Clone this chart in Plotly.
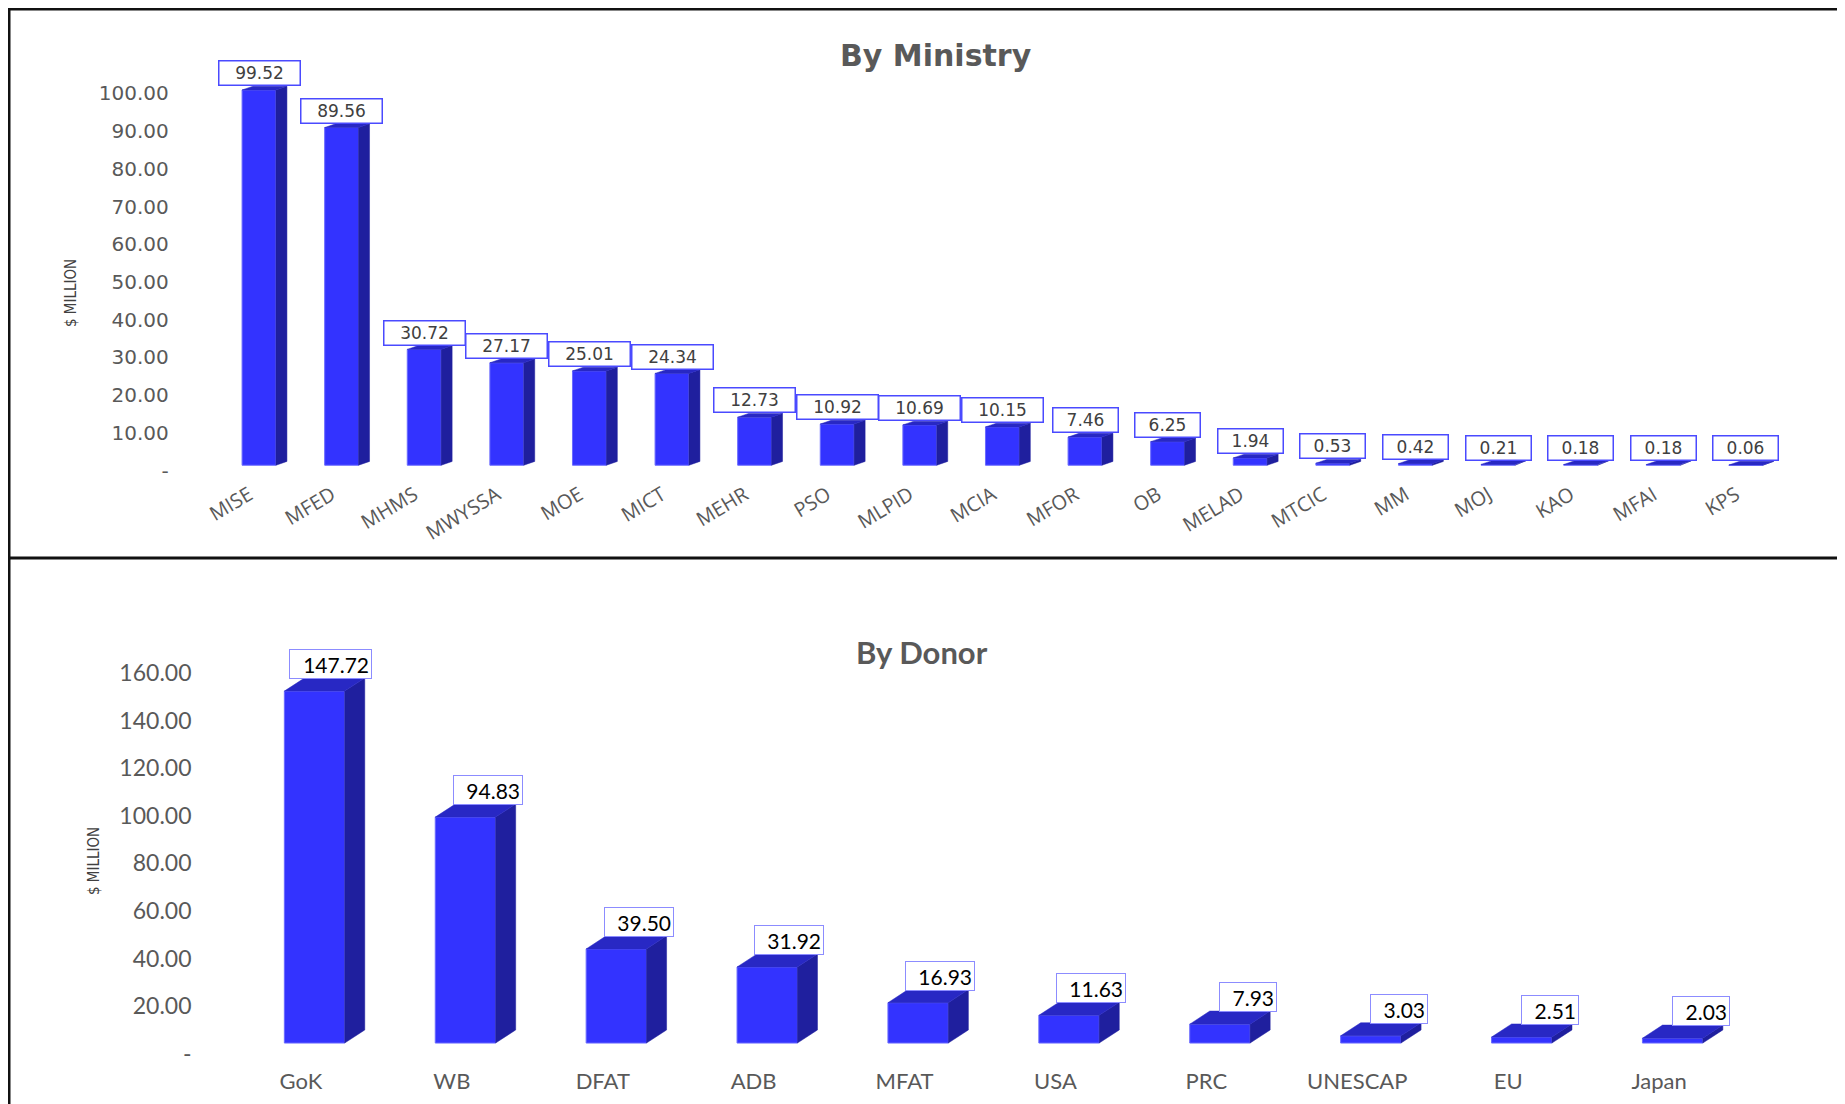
import plotly.graph_objects as go

W, H = 1845, 1104

# ---------------- data ----------------
ministries = ["MISE", "MFED", "MHMS", "MWYSSA", "MOE", "MICT", "MEHR", "PSO", "MLPID",
              "MCIA", "MFOR", "OB", "MELAD", "MTCIC", "MM", "MOJ", "KAO", "MFAI", "KPS"]
ministry_values = [99.52, 89.56, 30.72, 27.17, 25.01, 24.34, 12.73, 10.92, 10.69,
                   10.15, 7.46, 6.25, 1.94, 0.53, 0.42, 0.21, 0.18, 0.18, 0.06]
ministry_ytick_vals = [0, 10, 20, 30, 40, 50, 60, 70, 80, 90, 100]
ministry_ytick_text = ["-", "10.00", "20.00", "30.00", "40.00", "50.00", "60.00",
                       "70.00", "80.00", "90.00", "100.00"]

donors = ["GoK", "WB", "DFAT", "ADB", "MFAT", "USA", "PRC", "UNESCAP", "EU", "Japan"]
donor_values = [147.72, 94.83, 39.50, 31.92, 16.93, 11.63, 7.93, 3.03, 2.51, 2.03]
donor_ytick_vals = [0, 20, 40, 60, 80, 100, 120, 140, 160]
donor_ytick_text = ["-", "20.00", "40.00", "60.00", "80.00", "100.00", "120.00",
                    "140.00", "160.00"]

# ---------------- styles ----------------
FRONT = "#3333FF"
SIDE = "#1F1F9E"
TOP = "#2828C4"
EDGE = "#6A6AFF"
GREY = "#595959"

PAGE_OFF = 8  # default page body margin


def px_x(p):
    return (p - PAGE_OFF) / W


def px_y(p):
    return 1 - (p - PAGE_OFF) / H


def faces(n, vals, off, w, dx, dy, base):
    sx, sy, tx, ty = [], [], [], []
    for i in range(n):
        v = vals[i]
        xl = i + off - w / 2
        xr = i + off + w / 2
        b = base
        t = base + v
        sx += [xr, xr + dx, xr + dx, xr, xr, None]
        sy += [b, b + dy, t + dy, t, b, None]
        tx += [xl, xl + dx, xr + dx, xr, xl, None]
        ty += [t, t + dy, t + dy, t, t, None]
    return sx, sy, tx, ty


fig = go.Figure()

# ---------- By Ministry (x, y) ----------
m_n = len(ministries)
m_w, m_dx, m_dy, m_base, m_off = 0.41, 0.133, 1.0, 1.4, 0.12
fig.add_trace(go.Bar(
    x=[i + m_off for i in range(m_n)], y=ministry_values, base=m_base, width=m_w,
    marker=dict(color=FRONT, line=dict(color=EDGE, width=1)),
    xaxis="x", yaxis="y", hoverinfo="skip"))
sx, sy, tx, ty = faces(m_n, ministry_values, m_off, m_w, m_dx, m_dy, m_base)
fig.add_trace(go.Scatter(x=sx, y=sy, fill="toself", fillcolor=SIDE, mode="lines",
                         line=dict(color=SIDE, width=0.5), xaxis="x", yaxis="y",
                         hoverinfo="skip"))
fig.add_trace(go.Scatter(x=tx, y=ty, fill="toself", fillcolor=TOP, mode="lines",
                         line=dict(color=TOP, width=0.5), xaxis="x", yaxis="y",
                         hoverinfo="skip"))

# ---------- By Donor (x2, y2) ----------
d_n = len(donors)
d_w, d_dx, d_dy, d_base, d_off = 0.40, 0.133, 5.5, 4.6, 0.09
fig.add_trace(go.Bar(
    x=[i + d_off for i in range(d_n)], y=donor_values, base=d_base, width=d_w,
    marker=dict(color=FRONT, line=dict(color=EDGE, width=1)),
    xaxis="x2", yaxis="y2", hoverinfo="skip"))
sx, sy, tx, ty = faces(d_n, donor_values, d_off, d_w, d_dx, d_dy, d_base)
fig.add_trace(go.Scatter(x=sx, y=sy, fill="toself", fillcolor=SIDE, mode="lines",
                         line=dict(color=SIDE, width=0.5), xaxis="x2", yaxis="y2",
                         hoverinfo="skip"))
fig.add_trace(go.Scatter(x=tx, y=ty, fill="toself", fillcolor=TOP, mode="lines",
                         line=dict(color=TOP, width=0.5), xaxis="x2", yaxis="y2",
                         hoverinfo="skip"))

annotations = []
# value labels - ministry
for i, v in enumerate(ministry_values):
    txt = f"{v:.2f}"
    annotations.append(dict(
        x=i + m_off, y=m_base + v + m_dy, xref="x", yref="y", text=txt,
        showarrow=False, xanchor="center", yanchor="bottom", yshift=0,
        font=dict(family="DejaVu Sans", size=17, color="#404040"),
        bgcolor="white", bordercolor="#4A4AFF", borderwidth=1.5, borderpad=2,
        width=16 * len(txt) - 4, height=19, align="center"))
# value labels - donor
for i, v in enumerate(donor_values):
    txt = f"{v:.2f}"
    annotations.append(dict(
        x=i + d_off + d_w / 2 + d_dx, y=d_base + v + d_dy, xref="x2", yref="y2", text=txt,
        showarrow=False, xanchor="right", yanchor="bottom", xshift=7, yshift=-1,
        font=dict(family="Lato", size=21, color="black"),
        bgcolor="white", bordercolor="#8C8CFF", borderwidth=1, borderpad=2,
        width=int(12.5 * len(txt) + 2), height=24, align="right"))

# titles
annotations.append(dict(x=px_x(936), y=px_y(56), xref="paper", yref="paper",
                        text="<b>By Ministry</b>", showarrow=False,
                        font=dict(family="DejaVu Sans", size=30, color=GREY),
                        xanchor="center", yanchor="middle"))
annotations.append(dict(x=px_x(922), y=px_y(652), xref="paper", yref="paper",
                        text="<b>By Donor</b>", showarrow=False,
                        font=dict(family="Lato", size=31, color=GREY),
                        xanchor="center", yanchor="middle"))
# axis titles
annotations.append(dict(x=px_x(71), y=px_y(293), xref="paper", yref="paper",
                        text="$ MILLION", showarrow=False, textangle=-90,
                        font=dict(family="Liberation Sans Narrow, DejaVu Sans Condensed, Liberation Sans",
                                  size=15, color="#404040"),
                        xanchor="center", yanchor="middle"))
annotations.append(dict(x=px_x(94), y=px_y(861), xref="paper", yref="paper",
                        text="$ MILLION", showarrow=False, textangle=-90,
                        font=dict(family="Liberation Sans Narrow, DejaVu Sans Condensed, Liberation Sans",
                                  size=15, color="#404040"),
                        xanchor="center", yanchor="middle"))

shapes = [
    dict(type="rect", xref="paper", yref="paper", x0=px_x(9), x1=1.02,
         y0=px_y(9), y1=px_y(558), line=dict(color="#111111", width=3)),
    dict(type="line", xref="paper", yref="paper", x0=px_x(9), x1=px_x(9),
         y0=px_y(558), y1=-0.02, line=dict(color="#111111", width=3)),
]

axis_common = dict(showgrid=False, zeroline=False, showline=False, ticks="",
                   automargin=False, fixedrange=True)

fig.update_layout(
    width=W, height=H, autosize=False,
    margin=dict(l=0, r=0, t=0, b=0),
    paper_bgcolor="white", plot_bgcolor="white",
    showlegend=False, barmode="overlay",
    xaxis=dict(domain=[px_x(207.8), px_x(1777.2)], range=[-0.5, 18.5],
               tickvals=list(range(m_n)), ticktext=ministries, tickangle=-31,
               tickfont=dict(family="Open Sans", size=20, color=GREY),
               ticklabelstandoff=8, anchor="y", **axis_common),
    yaxis=dict(domain=[px_y(470.5), px_y(74.6)], range=[0, 105],
               tickvals=ministry_ytick_vals, ticktext=ministry_ytick_text,
               tickfont=dict(family="DejaVu Sans", size=20, color=GREY),
               ticklabelstandoff=38, anchor="x", **axis_common),
    xaxis2=dict(domain=[px_x(225.5), px_x(1734.5)], range=[-0.5, 9.5],
                tickvals=list(range(d_n)), ticktext=donors,
                tickfont=dict(family="Lato", size=22, color=GREY),
                ticklabelstandoff=12, anchor="y2", **axis_common),
    yaxis2=dict(domain=[px_y(1054), px_y(649)], range=[0, 170],
                tickvals=donor_ytick_vals, ticktext=donor_ytick_text,
                tickfont=dict(family="Lato", size=23, color=GREY),
                ticklabelstandoff=33, anchor="x2", **axis_common),
    annotations=annotations,
    shapes=shapes,
)

fig.write_html("out.html")
